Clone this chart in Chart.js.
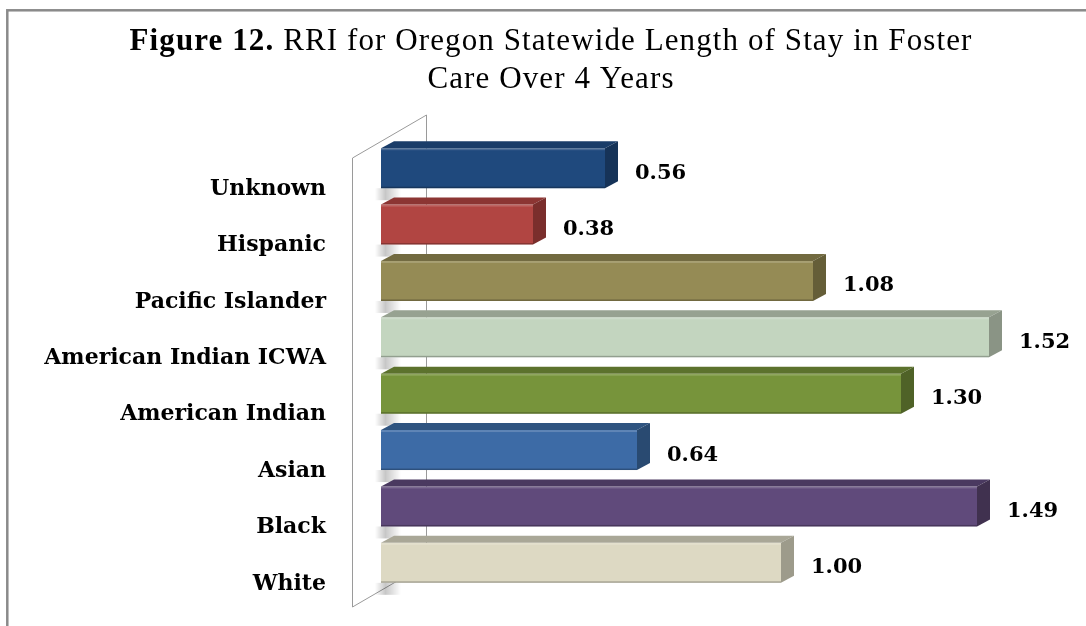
<!DOCTYPE html>
<html>
  <head>
    <title>Figure 12</title>
    <style>
      body { margin: 0; background: #fff; }
      #wrap { width: 1086px; height: 626px; }
    </style>
  </head>
  <body>
    <div id="wrap"><canvas id="myChart" width="1086" height="626"></canvas></div>

    <script src="https://cdn.jsdelivr.net/npm/chart.js@4.4.1/dist/chart.umd.min.js"></script>
    <script>
      // 資料
      const categories = ["Unknown", "Hispanic", "Pacific Islander", "American Indian ICWA", "American Indian", "Asian", "Black", "White"];
      const rriValues = [0.56, 0.38, 1.08, 1.52, 1.30, 0.64, 1.49, 1.00];
      const titleBold = "Figure 12.";
      const titleRest = " RRI for Oregon Statewide Length of Stay in Foster";
      const titleLine2 = "Care Over 4 Years";

      // 顏色 (正面 / 上面 / 側面)
      const frontColors = ["#1f497d", "#b14542", "#958b55", "#c3d5bf", "#77943b", "#3d6ba6", "#604a7b", "#ddd9c3"];
      const topColors = ["#1a3d69", "#8c3533", "#726a40", "#97a291", "#5c722d", "#2f5480", "#4a3960", "#a9a797"];
      const sideColors = ["#163358", "#7a2e2c", "#655e38", "#8a9485", "#4f6227", "#294a71", "#40314f", "#9d9b8b"];

      const depthX = 13, depthY = -7;

      // 外框、標題與背牆
      const backdrop = {
        id: "backdrop",
        beforeDraw(chart) {
          const { ctx, chartArea } = chart;
          ctx.save();
          ctx.strokeStyle = "#8a8a8a";
          ctx.lineWidth = 2.5;
          ctx.strokeRect(7.3, 10.3, 1200, 800);

          // 標題
          ctx.fillStyle = "#000";
          ctx.textBaseline = "alphabetic";
          ctx.letterSpacing = "1.1px";
          ctx.font = "bold 31px 'Liberation Serif'";
          const wb = ctx.measureText(titleBold).width;
          ctx.font = "31px 'Liberation Serif'";
          const wr = ctx.measureText(titleRest).width;
          let x0 = 551 - (wb + wr) / 2;
          ctx.font = "bold 31px 'Liberation Serif'";
          ctx.fillText(titleBold, x0, 50);
          ctx.font = "31px 'Liberation Serif'";
          ctx.fillText(titleRest, x0 + wb, 50);
          ctx.textAlign = "center";
          ctx.fillText(titleLine2, 551, 88);
          ctx.letterSpacing = "0px";

          // 背牆
          const L = chartArea.left, T = chartArea.top, B = chartArea.bottom;
          ctx.strokeStyle = "#9a9a9a";
          ctx.lineWidth = 1;
          ctx.beginPath();
          ctx.moveTo(L + 45.5, B - 27);
          ctx.lineTo(L + 45.5, T - 25);
          ctx.lineTo(L - 28.5, T + 18);
          ctx.lineTo(L - 28.5, B + 16);
          ctx.lineTo(L + 45.5, B - 27);
          ctx.stroke();
          ctx.restore();
        },
        beforeDatasetsDraw(chart) {
          // 牆上的陰影
          const { ctx } = chart;
          const meta = chart.getDatasetMeta(0);
          ctx.save();
          meta.data.forEach((bar) => {
            const p = bar.getProps(["y", "base", "height"], true);
            const yB = p.y + p.height / 2;
            const g = ctx.createLinearGradient(p.base - 6, 0, p.base + 20, 0);
            g.addColorStop(0, "rgba(0,0,0,0)");
            g.addColorStop(0.4, "rgba(0,0,0,0.22)");
            g.addColorStop(1, "rgba(0,0,0,0)");
            ctx.fillStyle = g;
            ctx.fillRect(p.base - 6, yB, 26, 12);
          });
          ctx.restore();
        },
      };

      // 立體效果與數值標籤
      const bars3d = {
        id: "bars3d",
        afterDatasetsDraw(chart) {
          const { ctx } = chart;
          const meta = chart.getDatasetMeta(0);
          ctx.save();
          meta.data.forEach((bar, i) => {
            const p = bar.getProps(["x", "y", "base", "height"], true);
            const yT = p.y - p.height / 2;
            const yB = p.y + p.height / 2;
            // 上面
            ctx.fillStyle = topColors[i];
            ctx.beginPath();
            ctx.moveTo(p.base, yT);
            ctx.lineTo(p.x, yT);
            ctx.lineTo(p.x + depthX, yT + depthY);
            ctx.lineTo(p.base + depthX, yT + depthY);
            ctx.closePath();
            ctx.fill();
            // 側面
            ctx.fillStyle = sideColors[i];
            ctx.beginPath();
            ctx.moveTo(p.x, yT);
            ctx.lineTo(p.x + depthX, yT + depthY);
            ctx.lineTo(p.x + depthX, yB + depthY);
            ctx.lineTo(p.x, yB);
            ctx.closePath();
            ctx.fill();
            // 亮邊
            ctx.fillStyle = "rgba(255,255,255,0.18)";
            ctx.fillRect(p.base, yT, p.x - p.base, 2);
            ctx.fillStyle = "rgba(0,0,0,0.25)";
            ctx.fillRect(p.base, yB - 1.5, p.x - p.base, 1.5);

            // 數值
            ctx.fillStyle = "#000";
            ctx.font = "bold 21px 'DejaVu Serif'";
            ctx.textAlign = "left";
            ctx.textBaseline = "middle";
            ctx.fillText(rriValues[i].toFixed(2), p.x + 30, p.y + 5);
          });
          ctx.restore();
        },
      };

      const ctx = document.getElementById("myChart").getContext("2d");
      const myChart = new Chart(ctx, {
        type: "bar",
        data: {
          labels: categories,
          datasets: [
            {
              data: rriValues,
              backgroundColor: frontColors,
              borderWidth: 0,
              barPercentage: 0.71,
              categoryPercentage: 1,
            },
          ],
        },
        options: {
          indexAxis: "y",
          responsive: false,
          animation: false,
          layout: { padding: { top: 140, bottom: 35, right: 65, left: 0 } },
          plugins: {
            legend: { display: false },
            tooltip: { enabled: false },
            title: { display: false },
          },
          scales: {
            x: { display: false, min: 0, max: 1.6 },
            y: {
              grid: { display: false, drawTicks: false },
              border: { display: false },
              ticks: {
                color: "#000",
                font: { family: "'DejaVu Serif'", weight: "bold", size: 22 },
                padding: 55,
                labelOffset: 21,
              },
              afterFit(scale) {
                scale.width = 381;
                scale.paddingTop = 0;
                scale.paddingBottom = 0;
              },
            },
          },
        },
        plugins: [backdrop, bars3d],
      });
    </script>
  </body>
</html>
